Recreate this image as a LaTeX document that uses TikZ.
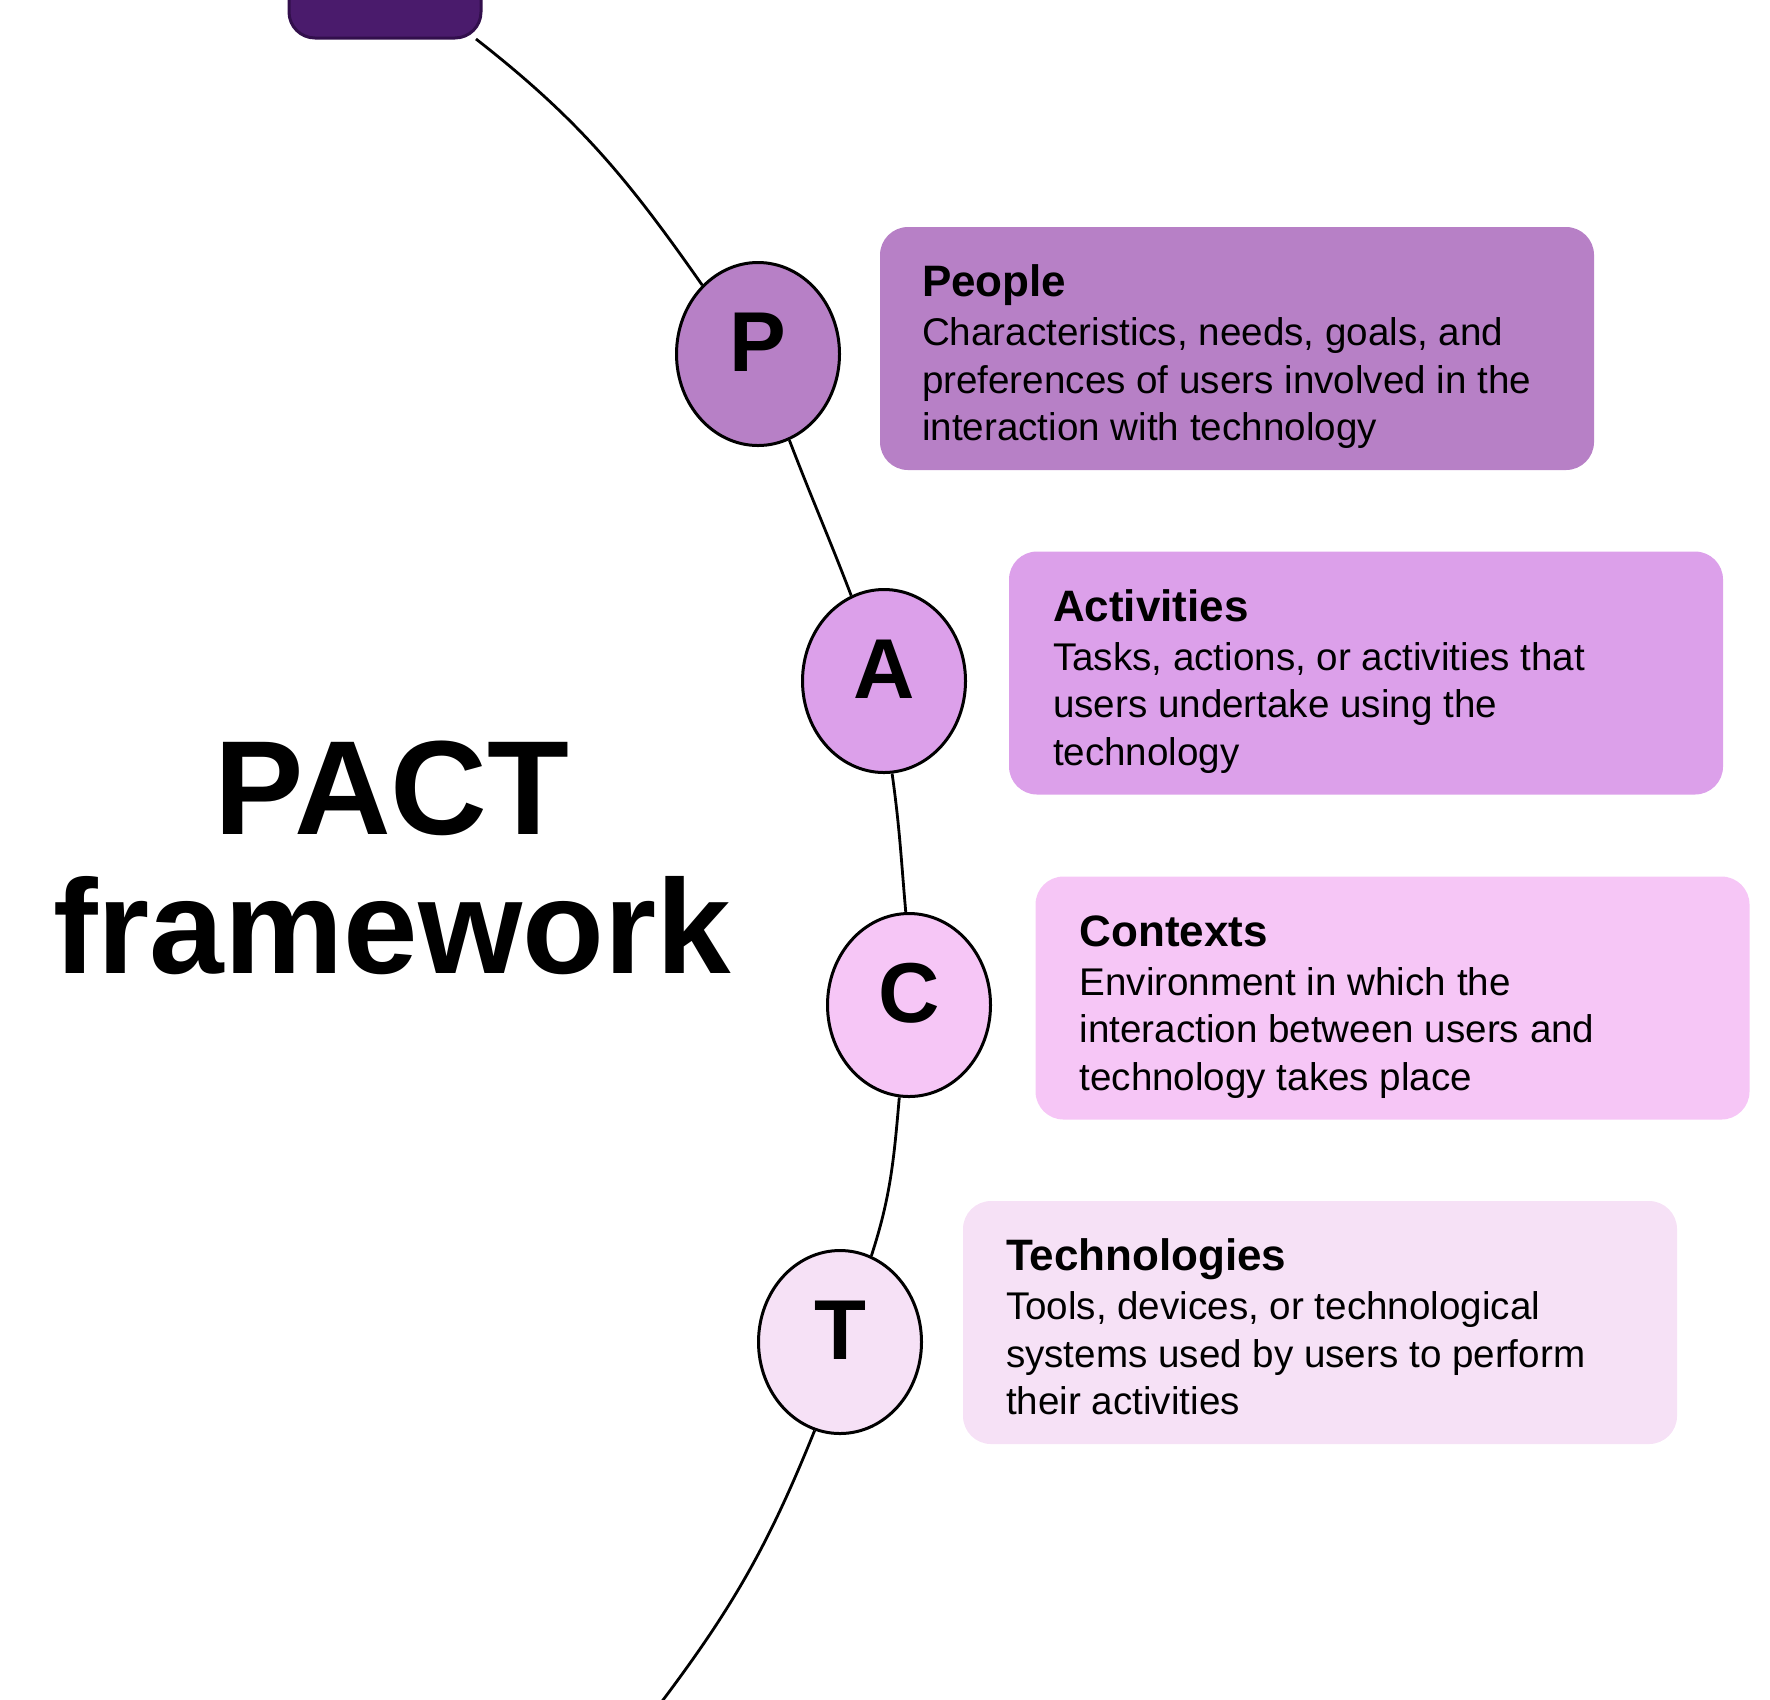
\documentclass[tikz,border=0pt]{standalone}
\usepackage{fontspec}
\setmainfont{Liberation Sans}
\usetikzlibrary{shapes.geometric}
\definecolor{cP}{HTML}{B780C6}
\definecolor{cA}{HTML}{DCA0EA}
\definecolor{cC}{HTML}{F6C6F6}
\definecolor{cT}{HTML}{F6E1F6}
\definecolor{topfill}{HTML}{4A1B6C}
\definecolor{topedge}{HTML}{320F4C}
\begin{document}
\begin{tikzpicture}[x=0.5pt,y=-0.5pt,
  dot/.style={ellipse, draw=black, line width=1.5pt, minimum width=81.5pt,
    minimum height=91.5pt, inner sep=0pt,
    font=\fontsize{42.5}{42.5}\selectfont\bfseries, text depth=12pt},
  card/.style={rounded corners=14pt, minimum width=357pt, minimum height=121.5pt, inner sep=0pt},
  ttl/.style={anchor=base west, inner sep=0pt, font=\fontsize{22}{26}\selectfont\bfseries},
  body/.style={anchor=base west, inner sep=0pt, font=\fontsize{19.3}{23.75}\selectfont},
  link/.style={line width=1.4pt, draw=black},
  topbox/.style={rounded corners=13pt, fill=topfill, draw=topedge, line width=1.5pt,
    minimum width=96pt, minimum height=70pt, inner sep=0pt}]
\useasboundingbox (0,0) rectangle (1770,1699);
\clip (0,0) rectangle (1770,1699);

% top partial box
\node[topbox] (tb) at (385,-32) {};

% title
\node[anchor=base, inner sep=0pt, font=\fontsize{67}{69.5}\selectfont\bfseries]
  (pact) at (392,834) {\parbox[t]{420pt}{\centering PACT\\framework}};

% circles
\node[dot, fill=cP] (P) at (758,354) {P};
\node[dot, fill=cA] (A) at (884,681) {A};
\node[dot, fill=cC] (C) at (909,1005) {C};
\node[dot, fill=cT] (T) at (840,1342) {T};

% cards
\node[card, fill=cP] (pbox) at (1237,348.5) {};
\node[card, fill=cA] (abox) at (1366,673) {};
\node[card, fill=cC] (cbox) at (1392.5,998) {};
\node[card, fill=cT] (tbox) at (1320,1322.5) {};

\node[ttl] (pttl) at ([shift={(42,70)}]pbox.north west) {People};
\node[body] (pbody) at ([shift={(42,119)}]pbox.north west)
  {\parbox[t]{340pt}{Characteristics, needs, goals, and\\preferences of users involved in the\\interaction with technology}};

\node[ttl] (attl) at ([shift={(44,70)}]abox.north west) {Activities};
\node[body] (abody) at ([shift={(44,119)}]abox.north west)
  {\parbox[t]{340pt}{Tasks, actions, or activities that\\users undertake using the\\technology}};

\node[ttl] (cttl) at ([shift={(44,70)}]cbox.north west) {Contexts};
\node[body] (cbody) at ([shift={(44,119)}]cbox.north west)
  {\parbox[t]{340pt}{Environment in which the\\interaction between users and\\technology takes place}};

\node[ttl] (tttl) at ([shift={(43,70)}]tbox.north west) {Technologies};
\node[body] (tbody) at ([shift={(43,119)}]tbox.north west)
  {\parbox[t]{340pt}{Tools, devices, or technological\\systems used by users to perform\\their activities}};

% connectors
\coordinate (s) at (476,39);
\coordinate (e) at (660,1704);
\draw[link] (s) to[out=-38,in=125] (P.129);
\draw[link] (P.-70) to[out=-69,in=111] (A.111);
\draw[link] (A.-85) to[out=-82,in=95] (C.92);
\draw[link] (C.-96) to[out=-95,in=72] (T.70);
\draw[link] (T.-106) to[out=-112,in=53] (e);
\end{tikzpicture}
\end{document}
